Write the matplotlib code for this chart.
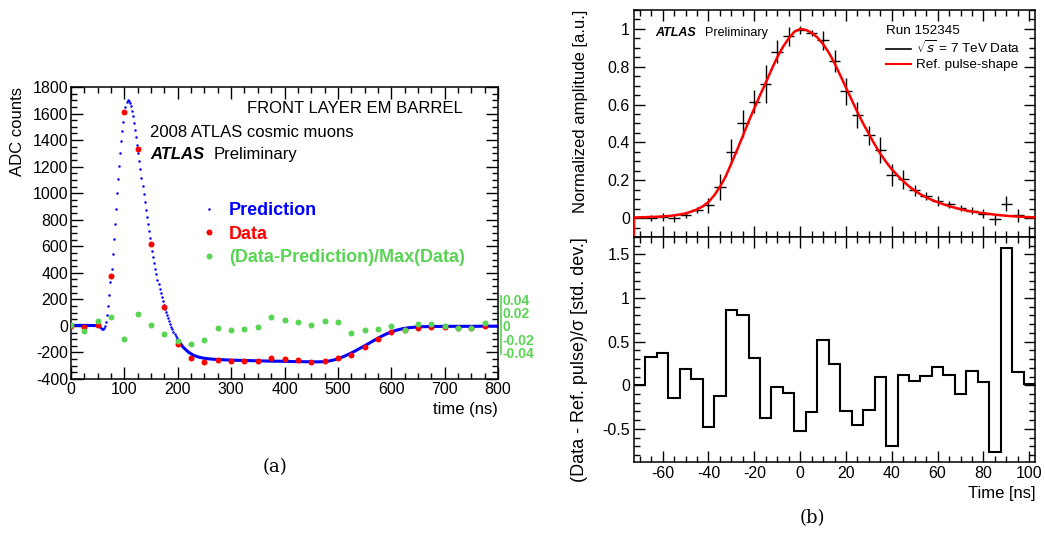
import numpy as np
import matplotlib.pyplot as plt
from matplotlib.ticker import MultipleLocator, FixedLocator, FixedFormatter
from matplotlib.lines import Line2D

plt.rcParams['font.family'] = ['Liberation Sans', 'DejaVu Sans']
plt.rcParams['axes.unicode_minus'] = False
plt.rcParams['mathtext.fontset'] = 'custom'
plt.rcParams['mathtext.rm'] = 'Liberation Sans'

# ---- (a) front layer EM barrel pulse, 2008 cosmics ----
pred_t_early = [0, 10, 20, 30, 40, 50]
pred_early = [4, 4, 4, 4, 3, 2]
pred_t_peak = np.arange(52, 199, 2)
pred_peak = [0, -6, -14, -21, -24, -18, -2, 28, 80, 150,
             235, 330, 432, 540, 652, 768, 884, 998, 1106, 1208,
             1302, 1390, 1468, 1540, 1603, 1652, 1686, 1700, 1698, 1682,
             1655, 1620, 1578, 1530, 1478, 1422, 1363, 1303, 1242, 1180,
             1118, 1056, 995, 935, 877, 821, 767, 715, 665, 617,
             568, 520, 474, 430, 388, 349, 312, 278, 246, 215,
             186, 158, 131, 105, 80, 57, 35, 14, -6, -25,
             -43, -60, -76, -91]
pred_t_tail = np.arange(200, 801, 10)
pred_tail = [-105, -160, -198, -222, -236, -244, -249, -252, -254, -256,
             -258, -259, -260, -261, -262, -263, -264, -265, -266, -266,
             -267, -268, -269, -269, -270, -270, -271, -270, -267, -259,
             -248, -232, -214, -194, -172, -150, -127, -104, -82, -62,
             -45, -32, -22, -15, -11, -8, -6, -5, -4, -4,
             -3, -3, -3, -3, -3, -3, -3, -2, -2, -2, -2]

sample_t = np.arange(0, 776, 25)
data_adc = [2, -5, 10, 379, 1608, 1333, 618, 141, -133, -239,
            -271, -254, -264, -264, -264, -244, -249, -256, -271, -261,
            -239, -221, -161, -98, -48, -30, -13, -10, -10, -13, -13, -3]
rel_diff = [0.0015, -0.0075, 0.007, 0.014, -0.020, 0.0176, 0.0015, -0.0126,
            -0.022, -0.027, -0.021, -0.0035, -0.006, -0.005, -0.0015, 0.014,
            0.0085, 0.0065, 0.0015, 0.007, 0.0065, -0.011, -0.006, -0.004,
            -0.0005, -0.006, 0.0025, 0.003, 0.0, -0.0025, -0.0025, 0.004]
diff_scale = 5000.0  # right-hand green axis: 0.04 <-> 200 ADC

# ---- (b) 7 TeV collisions, normalised pulse ----
pt_time = np.arange(-65, 96, 5)
pt_amp = [0.00, 0.007, 0.0, 0.014, 0.042, 0.067, 0.165, 0.35, 0.50, 0.615,
          0.71, 0.88, 0.96, 0.995, 0.98, 0.94, 0.83, 0.67, 0.545, 0.437,
          0.36, 0.227, 0.205, 0.146, 0.116, 0.09, 0.072, 0.055, 0.04, 0.023,
          -0.007, 0.077, 0.014]
pt_err = [0.015, 0.02, 0.02, 0.015, 0.015, 0.04, 0.07, 0.07, 0.07, 0.06,
          0.1, 0.06, 0.05, 0.02, 0.015, 0.05, 0.06, 0.07, 0.07, 0.05,
          0.07, 0.06, 0.05, 0.03, 0.02, 0.025, 0.02, 0.015, 0.02, 0.025,
          0.03, 0.04, 0.035]

ref_t = np.arange(-72.5, 102.6, 2.5)
ref_amp = [0.003, 0.004, 0.005, 0.006, 0.007, 0.009, 0.011, 0.014, 0.019, 0.025,
           0.034, 0.046, 0.062, 0.085, 0.12, 0.165, 0.22, 0.29, 0.36, 0.435,
           0.51, 0.58, 0.65, 0.715, 0.785, 0.85, 0.905, 0.95, 0.985, 1.0,
           0.995, 0.98, 0.955, 0.92, 0.875, 0.82, 0.755, 0.69, 0.625, 0.56,
           0.5, 0.445, 0.39, 0.34, 0.297, 0.258, 0.225, 0.195, 0.168, 0.145,
           0.126, 0.11, 0.096, 0.084, 0.073, 0.063, 0.055, 0.047, 0.04, 0.035,
           0.03, 0.026, 0.022, 0.018, 0.015, 0.012, 0.01, 0.008, 0.006, 0.005,
           0.004]
ref_start = -0.2  # curve enters from below the frame at the left edge

bin_edges = np.arange(-72.5, 103, 5)
pull = [0.0, 0.32, 0.37, -0.145, 0.19, 0.07, -0.48, -0.12, 0.86, 0.81,
        0.31, -0.37, -0.02, -0.085, -0.53, -0.31, 0.52, 0.24, -0.30, -0.45,
        -0.28, 0.10, -0.70, 0.12, 0.05, 0.11, 0.21, 0.12, -0.10, 0.16,
        0.04, -0.76, 1.57, 0.15, 0.01]

BLUE = '#0000ff'
RED = '#ff0000'
GREEN = '#59d454'

W, H = 1045, 556
fig = plt.figure(figsize=(W / 100, H / 100), dpi=100)


def box(x0, y0, x1, y1):
    return [x0 / W, 1 - y1 / H, (x1 - x0) / W, (y1 - y0) / H]


def root_ticks(ax, major, minor):
    ax.tick_params(which='both', direction='in', top=True, right=True, width=1.0)
    ax.tick_params(which='major', length=major)
    ax.tick_params(which='minor', length=minor)
    for s in ax.spines.values():
        s.set_linewidth(1.1)


# ---------- panel (a) ----------
ax = fig.add_axes(box(71, 87, 498, 379))
ax.plot(pred_t_early, pred_early, color=BLUE, lw=2.2, zorder=2)
ax.plot(pred_t_tail, pred_tail, color=BLUE, lw=2.2, zorder=2)
ax.plot(pred_t_peak, pred_peak, ls='none', marker='o', ms=1.8, mew=0,
        color=BLUE, zorder=2)
ax.plot(sample_t, data_adc, ls='none', marker='o', ms=4.3, mew=0, color=RED, zorder=3)
ax.plot(sample_t, np.array(rel_diff) * diff_scale, ls='none', marker='o', ms=4.3,
        mew=0, color=GREEN, zorder=4)

ax.set_xlim(0, 800)
ax.set_ylim(-400, 1800)
ax.xaxis.set_major_locator(MultipleLocator(100))
ax.xaxis.set_minor_locator(MultipleLocator(25))
ax.yaxis.set_major_locator(MultipleLocator(200))
ax.yaxis.set_minor_locator(MultipleLocator(50))
root_ticks(ax, 8.5, 4.3)
ax.tick_params(labelsize=11.5, pad=2)
ax.set_ylabel('ADC counts', fontsize=12, loc='top')
ax.yaxis.set_label_coords(-0.108, 1.0)
ax.set_xlabel('time (ns)', fontsize=12, loc='right')
ax.xaxis.set_label_coords(1.0, -0.08)

sec = ax.secondary_yaxis(1.008, functions=(lambda y: y / diff_scale,
                                           lambda r: r * diff_scale))
sec.yaxis.set_major_locator(FixedLocator([0.04, 0.02, 0, -0.02, -0.04]))
sec.yaxis.set_major_formatter(FixedFormatter(['0.04', '0.02', '0', '-0.02', '-0.04']))
sec.yaxis.set_minor_locator(FixedLocator([]))
sec.tick_params(length=0, pad=1, labelcolor=GREEN, labelsize=10)
for lab in sec.get_yticklabels():
    lab.set_fontweight('bold')
sec.spines['right'].set_color(GREEN)
sec.spines['right'].set_linewidth(1.2)
sec.spines['right'].set_bounds(-0.042, 0.045)

ax.text(0.918, 0.925, 'FRONT LAYER EM BARREL', transform=ax.transAxes,
        ha='right', va='center', fontsize=12)
ax.text(0.185, 0.845, '2008 ATLAS cosmic muons', transform=ax.transAxes,
        ha='left', va='center', fontsize=12)
ax.text(0.185, 0.77, 'ATLAS', transform=ax.transAxes, ha='left', va='center',
        fontsize=12, fontweight='bold', fontstyle='italic')
ax.text(0.335, 0.77, 'Preliminary', transform=ax.transAxes, ha='left',
        va='center', fontsize=12)

handles = [Line2D([], [], ls='none', marker='o', ms=1.8, mew=0, color=BLUE),
           Line2D([], [], ls='none', marker='o', ms=4.3, mew=0, color=RED),
           Line2D([], [], ls='none', marker='o', ms=4.3, mew=0, color=GREEN)]
ax.legend(handles, ['Prediction', 'Data', '(Data-Prediction)/Max(Data)'],
          loc='upper left', bbox_to_anchor=(0.31, 0.606), frameon=False,
          labelcolor=[BLUE, RED, GREEN], prop={'weight': 'bold', 'size': 13},
          handlelength=0.6, handletextpad=0.8, labelspacing=0.36,
          borderpad=0, borderaxespad=0)

# ---------- panel (b), top ----------
axt = fig.add_axes(box(634, 10, 1035, 237))
axt.plot(np.r_[ref_t[0], ref_t], np.r_[ref_start, ref_amp], color=RED, lw=1.8,
         zorder=3, label='Ref. pulse-shape')
axt.errorbar(pt_time, pt_amp, xerr=2.5, yerr=pt_err, fmt='none', ecolor='black',
             elinewidth=1.0, capsize=0, zorder=2)
axt.set_xlim(-72.5, 102.5)
axt.set_ylim(-0.1, 1.1)
axt.xaxis.set_major_locator(MultipleLocator(20))
axt.xaxis.set_minor_locator(MultipleLocator(5))
axt.yaxis.set_major_locator(MultipleLocator(0.2))
axt.yaxis.set_minor_locator(MultipleLocator(0.05))
axt.yaxis.set_major_formatter(plt.FuncFormatter(lambda v, p: f'{v:g}'))
root_ticks(axt, 8, 4)
axt.tick_params(labelsize=11.5, pad=3, labelbottom=False)
axt.set_ylabel('Normalized amplitude [a.u.]', fontsize=12, loc='top')
axt.yaxis.set_label_coords(-0.115, 1.0)
axt.text(0.053, 0.9, 'ATLAS', transform=axt.transAxes, ha='left', va='center',
         fontsize=9, fontweight='bold', fontstyle='italic')
axt.text(0.177, 0.9, 'Preliminary', transform=axt.transAxes, ha='left',
         va='center', fontsize=9)
leg_h = [Line2D([], [], color='black', lw=1.2), Line2D([], [], color=RED, lw=1.5)]
axt.legend(leg_h, [r'$\sqrt{s}$ = 7 TeV Data', 'Ref. pulse-shape'],
           title='Run 152345', alignment='left', title_fontsize=9.7,
           loc='upper left', bbox_to_anchor=(0.628, 0.935), frameon=False,
           fontsize=9.7, handlelength=1.9, handletextpad=0.35,
           labelspacing=0.2, borderpad=0, borderaxespad=0)

# ---------- panel (b), bottom ----------
axb = fig.add_axes(box(634, 237, 1035, 462))
axb.stairs(pull, bin_edges, color='black', lw=1.5, baseline=None)
axb.set_xlim(-72.5, 102.5)
axb.set_ylim(-0.88, 1.70)
axb.xaxis.set_major_locator(MultipleLocator(20))
axb.xaxis.set_minor_locator(MultipleLocator(5))
axb.yaxis.set_major_locator(MultipleLocator(0.5))
axb.yaxis.set_minor_locator(MultipleLocator(0.1))
axb.yaxis.set_major_formatter(plt.FuncFormatter(lambda v, p: f'{v:g}'))
root_ticks(axb, 8, 4)
axb.tick_params(labelsize=11.5, pad=3)
axb.set_ylabel('(Data - Ref. pulse)/σ [std. dev.]', fontsize=13, loc='top')
axb.yaxis.set_label_coords(-0.115, 1.0)
axb.set_xlabel('Time [ns]', fontsize=12, loc='right')
axb.xaxis.set_label_coords(1.0, -0.105)

fig.text(275 / W, 1 - 467 / H, '(a)', ha='center', va='center',
         family='DejaVu Serif', fontsize=13)
fig.text(812 / W, 1 - 518 / H, '(b)', ha='center', va='center',
         family='DejaVu Serif', fontsize=13)

fig.savefig('out.png', dpi=100)
